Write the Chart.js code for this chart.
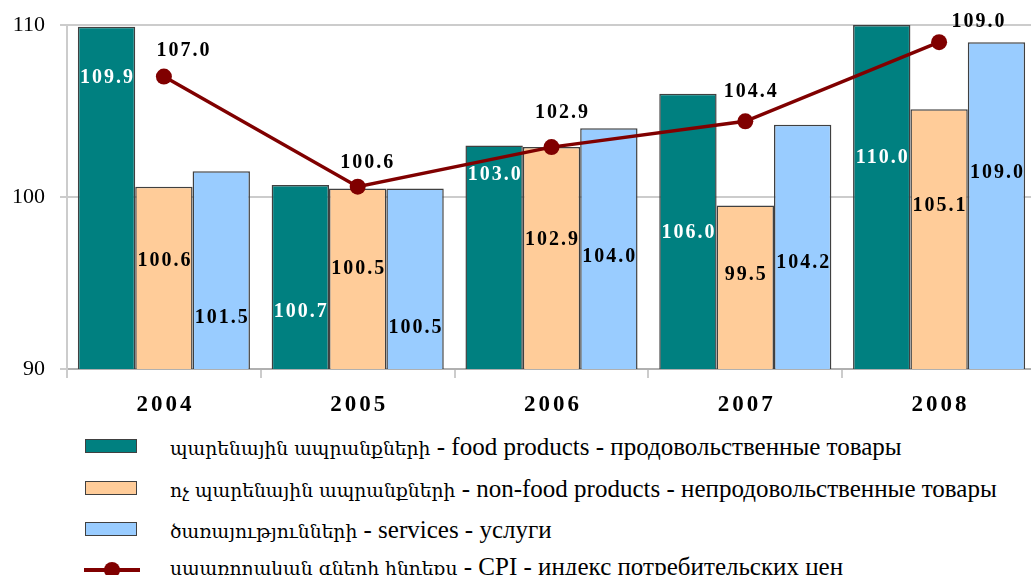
<!DOCTYPE html>
<html>
<head>
<meta charset="utf-8">
<script src="https://cdn.jsdelivr.net/npm/chart.js@4"></script>
<style>
  html, body { margin: 0; padding: 0; background: #fff; overflow: hidden; }
  #wrap { position: relative; width: 1031px; height: 575px; overflow: hidden; }
  #chart { position: absolute; left: 0; top: 0; }
  .row { position: absolute; left: 0; height: 26px; width: 1031px; font-family: "Liberation Serif", "DejaVu Serif", serif; font-size: 25px; color: #000; white-space: nowrap; }
  .box { position: absolute; left: 85px; top: 5px; width: 50px; height: 12px; border: 1.5px solid #404040; }
  .ln { position: absolute; left: 84px; width: 56px; height: 4px; }
  .dot { position: absolute; left: 104px; width: 16px; height: 16px; border-radius: 50%; }
  .txt { position: absolute; left: 170px; top: 0; line-height: 26px; }
  .arm { font-family: "DejaVu Serif", serif; font-size: 18.7px; }
</style>
</head>
<body>
<div id="wrap">
  <canvas id="chart" width="1036" height="420"></canvas>
  <div id="legend"></div>
</div>
<script>
const years = ['2004', '2005', '2006', '2007', '2008'];
const foodValues = [109.9, 100.7, 103.0, 106.0, 110.0];
const nonFoodValues = [100.6, 100.5, 102.9, 99.5, 105.1];
const servicesValues = [101.5, 100.5, 104.0, 104.2, 109.0];
const cpiValues = [107.0, 100.6, 102.9, 104.4, 109.0];
const yTicks = [90, 100, 110];
const seriesNames = [
    'պարենային ապրանքների - food products - продовольственные товары',
    'ոչ պարենային ապրանքների - non-food products - непродовольственные товары',
    'ծառայությունների - services - услуги',
    'սպառողական գների ինդեքս - CPI - индекс потребительских цен'
];

// where the value labels sit (in axis units), as placed in the original
const barLabelAt = [
    [106.9, 93.3, 101.3, 97.9, 102.3],
    [96.3, 95.8, 97.5, 95.5, 99.5],
    [93.0, 92.4, 96.5, 96.2, 101.4]
];
const cpiLabelAt = [108.5, 102.0, 104.9, 106.1, 110.2];
const cpiLabelDx = [19, 9, 10, 5, 39];

const serif = '"Liberation Serif", "DejaVu Serif", serif';

const valueLabels = {
    id: 'valueLabels',
    afterDatasetsDraw(chart) {
        const ctx = chart.ctx;
        const y = chart.scales.y;
        const x = chart.scales.x;
        ctx.save();
        ctx.textAlign = 'center';
        ctx.textBaseline = 'middle';
        ctx.font = 'bold 20px ' + serif;
        ctx.letterSpacing = '2px';
        chart.data.datasets.forEach((ds, i) => {
            const meta = chart.getDatasetMeta(i);
            meta.data.forEach((el, j) => {
                const txt = ds.data[j].toFixed(1);
                let px = el.x + 1, py;
                if (ds.type === 'line') {
                    px += cpiLabelDx[j];
                    py = y.getPixelForValue(cpiLabelAt[j]);
                } else {
                    py = y.getPixelForValue(barLabelAt[i][j]);
                }
                ctx.fillStyle = ds.labelColor;
                ctx.fillText(txt, px, py);
            });
        });
        // category labels
        ctx.font = 'bold 23px ' + serif;
        ctx.letterSpacing = '3px';
        ctx.fillStyle = '#000';
        years.forEach((yr, j) => {
            ctx.fillText(yr, x.getPixelForValue(j) + 1.5, 405);
        });
        ctx.restore();
    }
};

const chart = new Chart(document.getElementById('chart').getContext('2d'), {
    type: 'bar',
    data: {
        labels: years,
        datasets: [
            { label: seriesNames[0], data: foodValues, backgroundColor: '#008080', labelColor: '#fff', order: 1 },
            { label: seriesNames[1], data: nonFoodValues, backgroundColor: '#FFCC99', labelColor: '#000', order: 1 },
            { label: seriesNames[2], data: servicesValues, backgroundColor: '#99CCFF', labelColor: '#000', order: 1 },
            {
                type: 'line', label: seriesNames[3], data: cpiValues, order: 0,
                borderColor: '#800000', backgroundColor: '#800000', borderWidth: 3.5,
                pointRadius: 8, pointHoverRadius: 8, pointBackgroundColor: '#800000',
                pointBorderWidth: 0, labelColor: '#000'
            }
        ]
    },
    options: {
        responsive: false,
        animation: false,
        events: [],
        datasets: {
            bar: { categoryPercentage: 0.888, barPercentage: 1, borderColor: '#404040', borderWidth: 1.5 }
        },
        layout: { autoPadding: false, padding: { top: 25, left: 0, right: 0, bottom: 0 } },
        plugins: {
            legend: { display: false },
            tooltip: { enabled: false }
        },
        scales: {
            x: {
                offset: true,
                grid: { offset: true, drawOnChartArea: false, drawTicks: true, tickLength: 9, color: '#cccccc', lineWidth: 2 },
                border: { color: '#b0b0b0', width: 2 },
                ticks: { display: false },
                afterFit: s => { s.height = 51; }
            },
            y: {
                min: 90,
                max: 110,
                afterBuildTicks: s => { s.ticks = yTicks.map(v => ({ value: v })); },
                ticks: { font: { family: serif, size: 22 }, color: '#000', padding: 15 },
                grid: { color: '#cccccc', lineWidth: 2, tickLength: 7 },
                border: { color: '#cccccc', width: 2 },
                afterFit: s => { s.width = 67; s.paddingTop = 0; s.paddingBottom = 0; }
            }
        }
    },
    plugins: [valueLabels]
});

// legend, one line per series; the Armenian part is set a little smaller
const rowsY = [447, 489, 530, 567];
const legend = document.getElementById('legend');
chart.data.datasets.forEach((ds, i) => {
    const row = document.createElement('div');
    row.className = 'row';
    row.style.top = (rowsY[i] - 13) + 'px';
    if (ds.type === 'line') {
        row.innerHTML = '<div class="ln" style="background:' + ds.borderColor + ';top:14px"></div>' +
            '<div class="dot" style="background:' + ds.borderColor + ';top:8px"></div>';
    } else {
        row.innerHTML = '<div class="box" style="background:' + ds.backgroundColor + '"></div>';
    }
    const cut = ds.label.indexOf(' - ');
    const t = document.createElement('span');
    t.className = 'txt';
    const arm = document.createElement('span');
    arm.className = 'arm';
    arm.textContent = ds.label.slice(0, cut);
    t.appendChild(arm);
    t.appendChild(document.createTextNode(ds.label.slice(cut)));
    row.appendChild(t);
    legend.appendChild(row);
});
</script>
</body>
</html>
